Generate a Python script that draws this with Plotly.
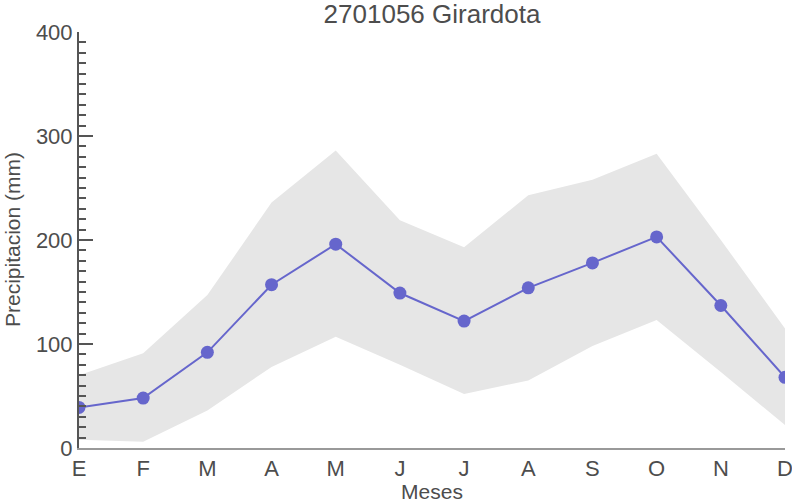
import plotly.graph_objects as go

months = ["E", "F", "M", "A", "M", "J", "J", "A", "S", "O", "N", "D"]
mean_vals = [39, 48, 92, 157, 196, 149, 122, 154, 178, 203, 137, 68]
upper_vals = [70, 91, 147, 236, 286, 219, 193, 243, 258, 283, 200, 115]
lower_vals = [8, 6, 36, 78, 107, 80, 52, 65, 98, 123, 73, 22]

x = list(range(len(months)))
text_color = "#4d4d4d"
font_family = "Liberation Sans, Arial, sans-serif"

fig = go.Figure()
fig.add_trace(go.Scatter(x=x, y=lower_vals, mode="lines", line=dict(width=0),
                         showlegend=False, hoverinfo="skip"))
fig.add_trace(go.Scatter(x=x, y=upper_vals, mode="lines", line=dict(width=0),
                         fill="tonexty", fillcolor="#e6e6e6",
                         showlegend=False, hoverinfo="skip"))
fig.add_trace(go.Scatter(x=x, y=mean_vals, mode="lines+markers",
                         line=dict(color="#6666cc", width=2),
                         marker=dict(color="#6666cc", size=13),
                         showlegend=False))

fig.update_layout(
    width=792, height=503,
    margin=dict(l=79, r=7, t=32, b=55, autoexpand=False),
    paper_bgcolor="white", plot_bgcolor="white",
    font=dict(family=font_family, color=text_color, size=22),
    title=dict(text="2701056 Girardota", x=0.5, xanchor="center", xref="paper",
               yref="container", y=1 - 14 / 503, yanchor="middle", automargin=False,
               font=dict(size=26, color=text_color, family=font_family)),
    annotations=[dict(text="Precipitacion (mm)", xref="paper", yref="paper",
                      x=-(79 - 12) / 706, y=0.5, xanchor="center", yanchor="middle",
                      textangle=-90, showarrow=False,
                      font=dict(size=21, color=text_color, family=font_family))],
)

fig.update_xaxes(
    range=[0, 11], tickvals=x, ticktext=months, automargin=False,
    ticklabeloverflow="allow",
    showgrid=False, zeroline=False, showline=True, linecolor="#999999", linewidth=1.5,
    ticks="", tickfont=dict(size=22, color=text_color),
    title=dict(text="Meses", font=dict(size=21, color=text_color), standoff=0),
)
fig.update_yaxes(
    range=[0, 400], tickvals=[0, 100, 200, 300, 400], automargin=False,
    ticklabeloverflow="allow",
    showgrid=False, zeroline=False, showline=True, linecolor="#555555", linewidth=2,
    ticks="inside", ticklen=14, tickwidth=2, tickcolor="#555555",
    tickfont=dict(size=22, color=text_color),
    minor=dict(dtick=10, ticks="inside", ticklen=7, tickwidth=1.5, tickcolor="#555555", showgrid=False),
)

fig.write_html("out.html", config={"displayModeBar": False},
               post_script="document.body.style.margin='0';document.body.style.overflow='hidden';")
